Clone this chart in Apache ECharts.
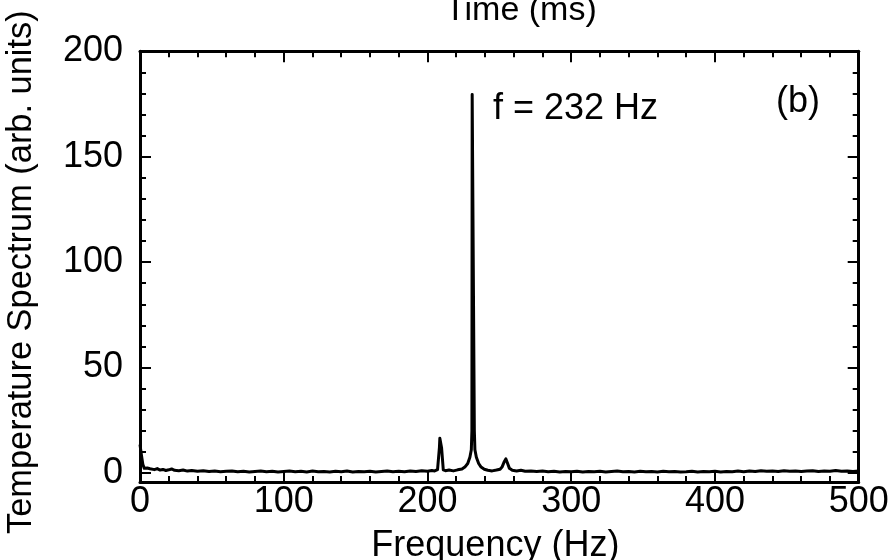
<!DOCTYPE html>
<html>
<head>
<meta charset="utf-8">
<script src="https://cdn.jsdelivr.net/npm/echarts@6/dist/echarts.min.js"></script>
<style>html,body{margin:0;padding:0;background:#fff;}#c{width:890px;height:560px;}</style>
</head>
<body>
<div id="c"></div>
<script>
// Frequency (Hz) of each sample
const freqHz = [0,1,2,3,4,5,6,7,8,10,12,14,16,18,20,22,24,27,30,33,36,40,44,48,52,56,60,64,68,72,76,80,84,88,92,96,100,104,108,112,116,120,124,128,132,136,140,144,148,152,156,160,164,168,172,176,180,184,188,192,196,200,203,205,207,208.3,208.6,209.4,209.8,211,212.5,215,218,221,224,226,228,229.5,230.5,230.9,231.1,232.4,232.6,233.0,234,235.6,237.3,239.5,242,245,248,250.5,252,253.5,254.5,255.5,257,259,262,265,268,272,276,280,284,288,292,296,300,304,308,312,316,320,324,328,332,336,340,344,348,352,356,360,364,368,372,376,380,384,388,392,396,400,404,408,412,416,420,424,428,432,436,440,444,448,452,456,460,464,468,472,476,480,484,488,492,496,500];
// Temperature spectrum (arb. units)
const spectrum = [13.5,8.5,4,2.2,1.6,2.4,2.8,2,1.3,1.6,2.1,1.4,1.7,1.2,1.5,1.9,1.3,1.1,1.4,0.9,1.2,0.8,1.1,0.7,0.9,0.6,0.8,1.0,0.6,0.8,0.5,0.7,0.9,0.6,0.8,0.5,0.7,0.9,0.6,0.8,0.5,0.9,0.6,0.7,0.5,0.8,0.6,0.9,0.5,0.7,0.6,0.8,0.5,0.7,0.9,0.6,0.8,0.6,1.0,0.7,1.1,0.8,1.2,1.0,1.6,12,16.5,16.5,12,1.5,1.1,1.4,1.0,1.5,1.9,2.8,4.5,7.5,11,20,179.5,179.5,20,11,7.5,4.5,2.8,1.8,1.3,1.0,1.4,1.8,3,5.5,6.7,5,2.2,1.3,1.0,1.3,0.8,1.0,0.7,0.9,0.6,0.8,0.5,0.7,0.6,0.8,0.5,0.7,0.6,0.8,0.5,0.7,0.9,0.6,0.7,0.5,0.8,0.6,0.7,0.5,0.8,0.6,0.7,0.5,0.6,0.8,0.5,0.7,0.6,0.8,0.5,0.7,0.6,0.9,0.6,1.0,0.7,1.1,0.8,1.0,0.7,1.1,0.8,1.0,0.7,0.9,1.1,0.7,1.0,0.8,1.2,0.8,1.0,0.7,0.9];
const xTicks = [0, 100, 200, 300, 400, 500];
const yTicks = [0, 50, 100, 150, 200];
const xTitle = 'Frequency (Hz)';
const yTitle = 'Temperature Spectrum (arb. units)';
const topTitle = 'Time (ms)';
const peakNote = 'f = 232 Hz';
const panelTag = '(b)';

const FONT = "'Liberation Sans', Arial, Helvetica, sans-serif";
const FS = 36;
const chart = echarts.init(document.getElementById('c'), null, {renderer: 'canvas'});
const seriesData = freqHz.map((f, i) => [f, spectrum[i]]);
const frameLine = {show: true, onZero: false, lineStyle: {color: '#000', width: 3}};
const noSplit = {show: false};
const majorTick = {show: true, inside: true, length: 11, lineStyle: {color: '#000', width: 2}};
const minorTk = {show: true, splitNumber: 5, length: 6, lineStyle: {color: '#000', width: 2}};
const gridL = 140, gridR = 31.3, gridT = 51.3;

chart.setOption({
  animation: false,
  backgroundColor: '#fff',
  textStyle: {fontFamily: FONT, color: '#000'},
  grid: [
    {left: gridL, right: gridR, top: gridT, bottom: 87, containLabel: false, outerBoundsMode: 'none'},
    {left: gridL, right: gridR, top: gridT, bottom: 78, containLabel: false, outerBoundsMode: 'none'}
  ],
  xAxis: [
    {type: 'value', gridIndex: 0, min: xTicks[0], max: xTicks[xTicks.length-1], show: false},
    {type: 'value', gridIndex: 1, position: 'bottom', min: xTicks[0], max: xTicks[xTicks.length-1], interval: xTicks[1]-xTicks[0],
      axisLine: frameLine, splitLine: noSplit, axisTick: majorTick, minorTick: minorTk,
      axisLabel: {show: true, margin: 2, fontSize: FS, color: '#000', fontFamily: FONT},
      name: xTitle, nameLocation: 'middle', nameGap: 46,
      nameTextStyle: {fontSize: FS, color: '#000', fontFamily: FONT, padding: [0, 8, 0, 0]}},
    {type: 'value', gridIndex: 1, position: 'top', min: xTicks[0], max: xTicks[xTicks.length-1], interval: xTicks[1]-xTicks[0],
      axisLine: frameLine, splitLine: noSplit, axisTick: majorTick, minorTick: minorTk,
      axisLabel: {show: false}}
  ],
  yAxis: [
    {type: 'value', gridIndex: 0, position: 'left', min: yTicks[0], max: yTicks[yTicks.length-1], interval: yTicks[1]-yTicks[0],
      axisLine: {show: false, onZero: false}, splitLine: noSplit, axisTick: majorTick, minorTick: minorTk,
      axisLabel: {show: true, margin: 17, fontSize: FS, color: '#000', fontFamily: FONT}},
    {type: 'value', gridIndex: 0, position: 'right', min: yTicks[0], max: yTicks[yTicks.length-1], interval: yTicks[1]-yTicks[0],
      axisLine: {show: false, onZero: false}, splitLine: noSplit, axisTick: majorTick, minorTick: minorTk,
      axisLabel: {show: false}},
    {type: 'value', gridIndex: 1, position: 'left', min: 0, max: 1,
      axisLine: frameLine, splitLine: noSplit, axisTick: {show: false}, axisLabel: {show: false},
      name: yTitle, nameLocation: 'middle', nameGap: 101, nameRotate: 90,
      nameTextStyle: {fontSize: 34.4, color: '#000', fontFamily: FONT, padding: [0, 11, 0, 0]}},
    {type: 'value', gridIndex: 1, position: 'right', min: 0, max: 1,
      axisLine: frameLine, splitLine: noSplit, axisTick: {show: false}, axisLabel: {show: false}}
  ],
  graphic: [
    {type: 'text', left: 445, top: -6, style: {text: topTitle, font: '34px ' + FONT, fill: '#000'}},
    {type: 'text', left: 493, top: 91, style: {text: peakNote, font: FS + 'px ' + FONT, fill: '#000'}},
    {type: 'text', left: 776, top: 84, style: {text: panelTag, font: FS + 'px ' + FONT, fill: '#000'}}
  ],
  series: [{
    type: 'line', xAxisIndex: 0, yAxisIndex: 0, data: seriesData,
    showSymbol: false, symbol: 'none', smooth: false,
    lineStyle: {color: '#000', width: 3, join: 'round'},
    clip: true, z: 5
  }]
});
</script>
</body>
</html>
